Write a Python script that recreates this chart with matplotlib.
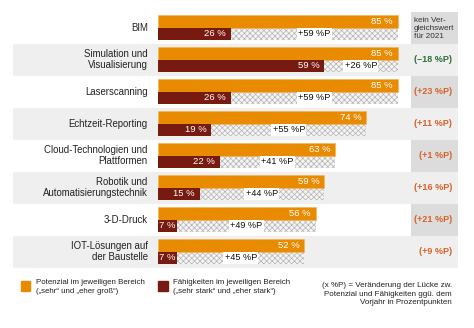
import matplotlib.pyplot as plt
from matplotlib.patches import Rectangle
from matplotlib.transforms import blended_transform_factory

plt.rcParams['font.family'] = ['Liberation Sans', 'DejaVu Sans']
plt.rcParams['hatch.linewidth'] = 0.5

categories = ["BIM", "Simulation und\nVisualisierung", "Laserscanning",
              "Echtzeit-Reporting", "Cloud-Technologien und\nPlattformen",
              "Robotik und\nAutomatisierungstechnik", "3-D-Druck",
              "IOT-Lösungen auf\nder Baustelle"]
potenzial = [85, 85, 85, 74, 63, 59, 56, 52]
faehigkeiten = [26, 59, 26, 19, 22, 15, 7, 7]
luecke = [59, 26, 59, 55, 41, 44, 49, 45]
veraenderung = [None, -18, 23, 11, 1, 16, 21, 9]

ORANGE = "#e98b00"
DARKRED = "#771a10"
W, H = 474, 328

fig = plt.figure(figsize=(W / 100, H / 100), dpi=100)
x0, x1 = 157.5, 411.0  # bar area in px
ax = fig.add_axes([x0 / W, (H - 267.7) / H, (x1 - x0) / W, 256 / H])
ax.set_xlim(0, (x1 - x0) / 2.824)
ax.set_ylim(len(categories) - 0.5, -0.5)
ax.axis("off")

fx = lambda px: (px - x0) / (x1 - x0)  # px -> axes fraction
tr = blended_transform_factory(ax.transAxes, ax.transData)

for i in range(len(categories)):
    if i % 2 == 1:
        ax.axhspan(i - 0.5, i + 0.5, xmin=fx(13.3), xmax=fx(457.7),
                   color="#efefef", lw=0, zorder=0, clip_on=False)
    else:
        ax.axhspan(i - 0.5, i + 0.5, xmin=1.0, xmax=fx(457.7),
                   color="#dcdcdc", lw=0, zorder=0, clip_on=False)

y = list(range(len(categories)))
h = 0.39
yo = [v - h / 2 for v in y]
yd = [v + h / 2 for v in y]

ax.barh(yo, potenzial, height=h, color=ORANGE, edgecolor="#f2b65e",
        lw=0.5, zorder=3)
gap = [p - f for p, f in zip(potenzial, faehigkeiten)]
ax.barh(yd, gap, left=faehigkeiten, height=h, color="#f4f4f4",
        edgecolor="#b4b4b4", hatch="xxxxxx", lw=0, zorder=2)
ax.barh(yd, faehigkeiten, height=h, color=DARKRED, lw=0, zorder=3)

for i in range(len(categories)):
    ax.annotate(f"{potenzial[i]} %", (potenzial[i], yo[i]), xytext=(-3.5, 0),
                textcoords="offset points", ha="right", va="center",
                color="white", fontsize=6.8, zorder=5)
    ax.annotate(f"{faehigkeiten[i]} %", (faehigkeiten[i], yd[i]),
                xytext=(-3.5 if faehigkeiten[i] > 9 else -1, 0),
                textcoords="offset points", ha="right", va="center",
                color="white", fontsize=6.8, zorder=5)
    ax.text((potenzial[i] + faehigkeiten[i]) / 2, yd[i], f"+{luecke[i]} %P",
            ha="center", va="center", fontsize=6.6, color="#111111", zorder=5,
            bbox=dict(facecolor="white", edgecolor="none", pad=1))
    ax.text(fx(147.7), i, categories[i], transform=tr, ha="right",
            va="center", fontsize=6.9, color="#222222", linespacing=1.2)
    v = veraenderung[i]
    if v is None:
        ax.text(fx(414), i + 0.02, "kein Ver-\ngleichswert\nfür 2021",
                transform=tr, ha="left", va="center", fontsize=5.9,
                color="#333333", linespacing=1.2)
    else:
        sign = "–" if v < 0 else "+"
        ax.text(fx(452), i, f"({sign}{abs(v)} %P)", transform=tr,
                ha="right", va="center", fontsize=6.5, fontweight="bold",
                color="#2f6e3b" if v < 0 else "#d9622b")

# legend
for sx, col, txt in [(20.7, ORANGE, "Potenzial im jeweiligen Bereich\n(„sehr“ und „eher groß“)"),
                     (158.3, DARKRED, "Fähigkeiten im jeweiligen Bereich\n(„sehr stark“ und „eher stark“)")]:
    fig.patches.append(Rectangle((sx / W, (H - 291) / H), 9.5 / W, 10 / H,
                                 transform=fig.transFigure, color=col))
    fig.text((sx + 15) / W, (H - 286.7) / H, txt, ha="left", va="center",
             fontsize=5.7, color="#222222", linespacing=1.35)
fig.text(452 / W, (H - 294) / H,
         "(x %P) = Veränderung der Lücke zw.\nPotenzial und Fähigkeiten ggü. dem\nVorjahr in Prozentpunkten",
         ha="right", va="center", fontsize=5.8, color="#222222", linespacing=1.3)

fig.savefig("out.png", dpi=100)
